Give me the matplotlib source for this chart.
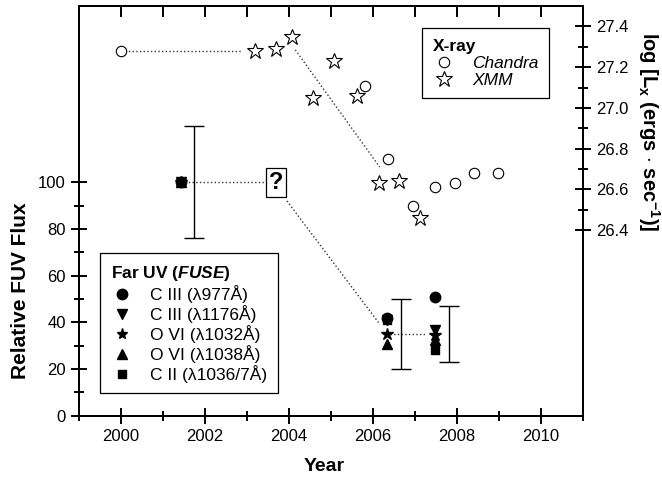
import numpy as np
import matplotlib.pyplot as plt
from matplotlib.lines import Line2D
from matplotlib.ticker import MultipleLocator, FixedLocator, NullLocator

plt.rcParams['font.family'] = ['Liberation Sans', 'DejaVu Sans']
plt.rcParams['mathtext.fontset'] = 'custom'
plt.rcParams['mathtext.rm'] = 'Liberation Sans:bold'
plt.rcParams['mathtext.bf'] = 'Liberation Sans:bold'
plt.rcParams['mathtext.it'] = 'Liberation Sans:italic:bold'

# X-ray luminosities (right axis)
chandra_year = [2000.0, 2005.81, 2006.36, 2006.95, 2007.47, 2007.96, 2008.40, 2008.97]
chandra_logLx = [27.28, 27.11, 26.75, 26.52, 26.61, 26.63, 26.68, 26.68]
xmm_year = [2003.18, 2003.70, 2004.08, 2004.57, 2005.06, 2005.62, 2006.14, 2006.62, 2007.11]
xmm_logLx = [27.28, 27.29, 27.35, 27.05, 27.23, 27.06, 26.63, 26.64, 26.46]

# dotted trend segments, X-ray
xray_flat_year = [2000.0, 2002.86]
xray_flat_logLx = [27.28, 27.28]
xray_drop_year = [2004.15, 2006.16]
xray_drop_logLx = [27.285, 26.71]

# FUSE relative line fluxes (left axis)
fuv_epoch = [2001.44, 2006.33, 2007.48]
c3_977 = [100, 42, 51]
c3_1176 = [100, 41, 36.6]
o6_1032 = [100, 35, 34.5]
o6_1038 = [100, 30.7, 32.4]
c2_1036 = [100, 41, 28.1]

err_epoch = [2001.75, 2006.66, 2007.81]
err_mid = [100, 35, 35]
err_half = [24, 15, 12]

# dotted trend segments, FUV
fuv_flat1_year = [2001.44, 2003.45]
fuv_flat1_flux = [100, 100]
fuv_drop_year = [2003.95, 2006.15]
fuv_drop_flux = [92, 39.5]
fuv_flat2_year = [2006.40, 2007.25]
fuv_flat2_flux = [35, 35]
query_year, query_flux = 2003.70, 100

fig = plt.figure(figsize=(6.62, 4.78), dpi=100)
rect = [0.1193, 0.1303, 0.7614, 0.8571]
ax = fig.add_axes(rect)
# second axes on top of the first one, for the X-ray scale
ax2 = fig.add_axes(rect, facecolor='none')

lw_axis = 1.4
for a in (ax, ax2):
    for s in a.spines.values():
        s.set_linewidth(lw_axis)

# FUV panel
ax.plot(fuv_flat1_year, fuv_flat1_flux, ':', color='#333333', lw=1)
ax.plot(fuv_drop_year, fuv_drop_flux, ':', color='#333333', lw=1)
ax.plot(fuv_flat2_year, fuv_flat2_flux, ':', color='#333333', lw=1)
ax.errorbar(err_epoch, err_mid, yerr=err_half, fmt='none', ecolor='black',
            elinewidth=1, capsize=7, capthick=1)
ax.plot(fuv_epoch, c2_1036, 's', color='black', ms=6, ls='none')
ax.plot(fuv_epoch, c3_977, 'o', color='black', ms=7.5, ls='none')
ax.plot(fuv_epoch, c3_1176, 'v', color='black', ms=7.5, ls='none')
ax.plot(fuv_epoch, o6_1032, '*', color='black', ms=9, ls='none')
ax.plot(fuv_epoch, o6_1038, '^', color='black', ms=7.5, ls='none')
ax.text(query_year, query_flux, '?', fontsize=17, fontweight='bold',
        ha='center', va='center',
        bbox=dict(boxstyle='square,pad=0.12', fc='white', ec='black', lw=0.9))

ax.set_xlim(1999, 2011)
ax.set_ylim(0, 175.5)
ax.xaxis.set_major_locator(MultipleLocator(2))
ax.xaxis.set_minor_locator(MultipleLocator(1))
ax.yaxis.set_major_locator(FixedLocator([0, 20, 40, 60, 80, 100]))
ax.yaxis.set_minor_locator(FixedLocator([10, 30, 50, 70, 90]))
ax.tick_params(axis='both', which='major', direction='inout', length=12,
               width=lw_axis, labelsize=12)
ax.tick_params(axis='both', which='minor', direction='inout', length=7,
               width=lw_axis)
ax.tick_params(axis='y', which='both', left=True, right=False,
               labelleft=True, labelright=False)
ax.tick_params(axis='x', which='both', top=False, bottom=True)
ax.set_xlabel('Year', fontsize=14, fontweight='bold')
ax.xaxis.set_label_coords(0.486, -0.104)
ax.set_ylabel('Relative FUV Flux', fontsize=15, fontweight='bold', va='center')
ax.yaxis.set_label_coords(-0.117, 0.304)

# X-ray panel; its x axis carries the inward yearly ticks along the top
ax2.plot(xray_flat_year, xray_flat_logLx, ':', color='#333333', lw=1)
ax2.plot(xray_drop_year, xray_drop_logLx, ':', color='#333333', lw=1)
ax2.plot(chandra_year, chandra_logLx, 'o', mfc='white', mec='black', mew=0.8,
         ms=7.5, ls='none')
ax2.plot(xmm_year, xmm_logLx, '*', mfc='white', mec='black', mew=0.8,
         ms=12, ls='none')
ax2.set_xlim(1999, 2011)
ax2.set_ylim(25.49, 27.50)
ax2.xaxis.set_major_locator(MultipleLocator(1))
ax2.xaxis.set_minor_locator(NullLocator())
ax2.tick_params(axis='x', which='major', top=True, bottom=False,
                labeltop=False, labelbottom=False, direction='in',
                length=8, width=lw_axis)
ax2.yaxis.set_major_locator(FixedLocator([26.4, 26.6, 26.8, 27.0, 27.2, 27.4]))
ax2.yaxis.set_minor_locator(FixedLocator([26.5, 26.7, 26.9, 27.1, 27.3]))
ax2.yaxis.set_major_formatter(lambda v, p: f'{v:.1f}')
ax2.tick_params(axis='y', which='both', left=False, right=True,
                labelleft=False, labelright=True)
ax2.tick_params(axis='y', which='major', direction='inout', length=12,
                width=lw_axis, labelsize=12)
ax2.tick_params(axis='y', which='minor', direction='inout', length=7,
                width=lw_axis)
ax2.yaxis.set_label_position('right')
ax2.set_ylabel(r'log [L$_\mathrm{x}$ (ergs $\cdot$ sec$^\mathrm{-1}$)]',
               fontsize=14.5, fontweight='bold', rotation=270, va='center')
ax2.yaxis.set_label_coords(1.131, 0.692)

# legends
fuv_handles = [
    Line2D([], [], marker='o', color='black', ls='none', ms=7.5),
    Line2D([], [], marker='v', color='black', ls='none', ms=7.5),
    Line2D([], [], marker='*', color='black', ls='none', ms=8),
    Line2D([], [], marker='^', color='black', ls='none', ms=7.5),
    Line2D([], [], marker='s', color='black', ls='none', ms=6),
]
fuv_labels = ['C III (λ977Å)', 'C III (λ1176Å)', 'O VI (λ1032Å)',
              'O VI (λ1038Å)', 'C II (λ1036/7Å)']
leg1 = ax2.legend(fuv_handles, fuv_labels, title=r'Far UV ($\mathit{FUSE}$)',
                  loc='lower left', bbox_to_anchor=(0.042, 0.055),
                  borderaxespad=0, fontsize=12.5, fancybox=False, framealpha=1,
                  edgecolor='black', handlelength=1.3, handletextpad=1.0,
                  labelspacing=0.12, alignment='left', borderpad=0.6,
                  title_fontproperties={'weight': 'bold', 'size': 12.5})
leg1.get_frame().set_linewidth(0.9)
ax2.add_artist(leg1)

xray_handles = [
    Line2D([], [], marker='o', mfc='white', mec='black', mew=0.8, ls='none', ms=7.5),
    Line2D([], [], marker='*', mfc='white', mec='black', mew=0.8, ls='none', ms=12),
]
leg2 = ax2.legend(xray_handles, ['Chandra', 'XMM'], title='X-ray',
                  loc='upper right', bbox_to_anchor=(0.933, 0.946),
                  borderaxespad=0, fontsize=12.5, fancybox=False, framealpha=1,
                  edgecolor='black', handlelength=1.3, handletextpad=1.0,
                  labelspacing=0.12, alignment='left', borderpad=0.6,
                  title_fontproperties={'weight': 'bold', 'size': 12.5})
leg2.get_frame().set_linewidth(0.9)
for t in leg2.get_texts():
    t.set_style('italic')

fig.savefig('out.png', dpi=100)
